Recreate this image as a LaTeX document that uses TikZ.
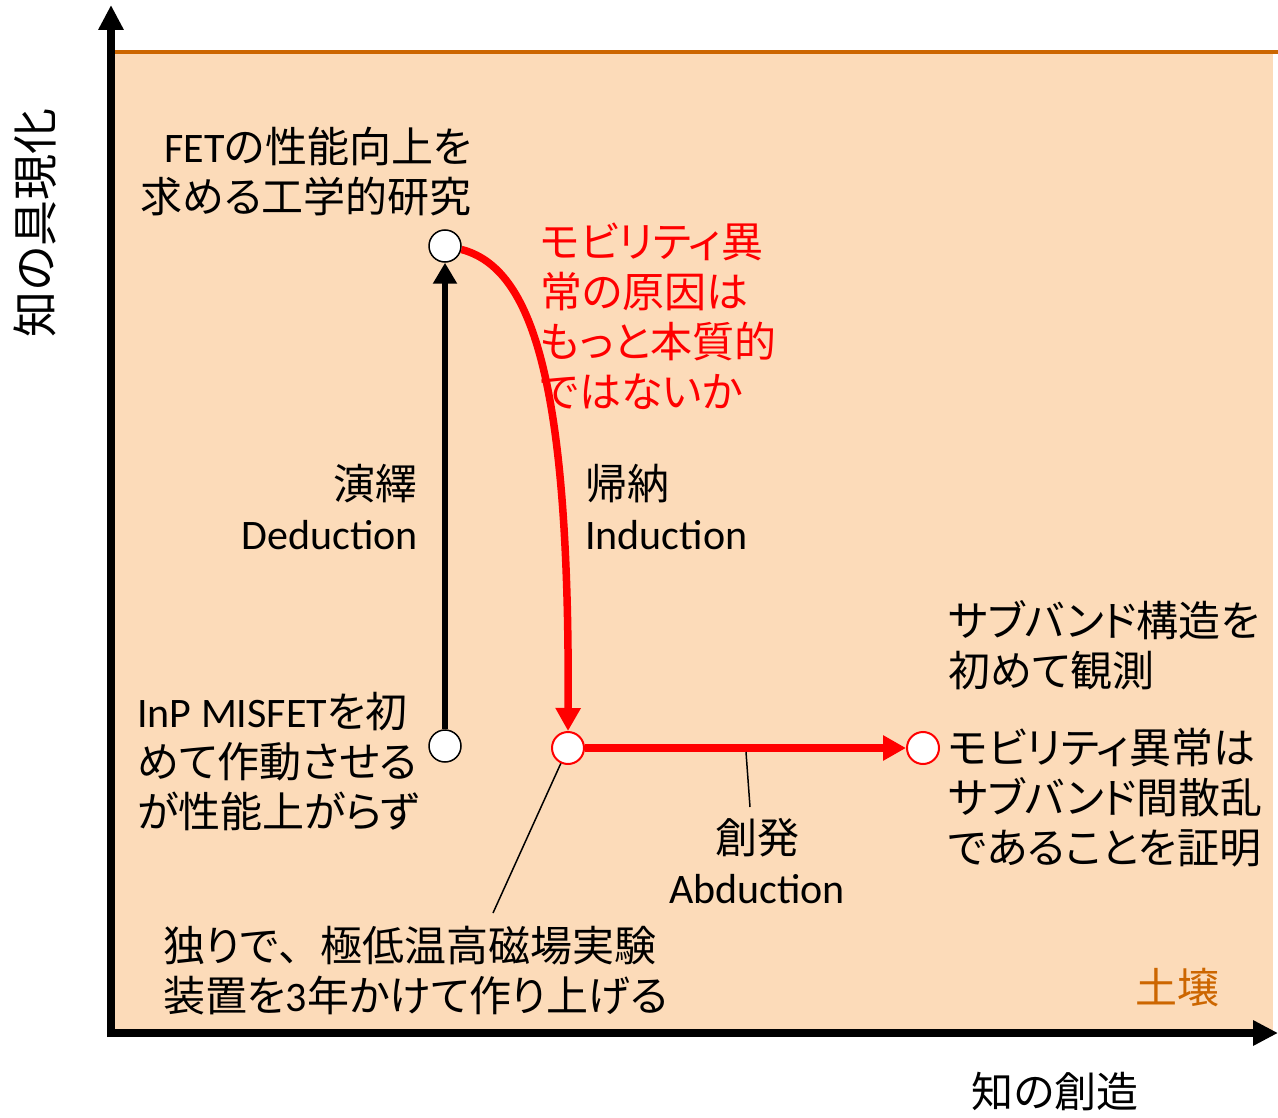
\documentclass[tikz,border=0pt]{standalone}
\usepackage{fontspec}
\setmainfont{Noto Sans CJK JP}[RawFeature={+palt}]
\newfontfamily\jpfull{Noto Sans CJK JP}
\newfontfamily\lat{Carlito}
\usetikzlibrary{arrows.meta}
\definecolor{soil}{RGB}{252,219,185}
\definecolor{soilline}{RGB}{204,102,0}
\begin{document}
\begin{tikzpicture}[x=1pt,y=-1pt,
  txt/.style={inner sep=0pt, font=\fontsize{42}{50}\selectfont},
  dot/.style={circle, draw=black, fill=white, line width=1.5pt, minimum size=32pt, inner sep=0pt},
  rdot/.style={dot, draw=red, line width=2pt},
  axisline/.style={line width=8pt, -{Triangle[length=25pt,width=24pt]}},
  leader/.style={line width=1.5pt},
  redarrow/.style={red, line width=7.5pt, -{Triangle[length=23pt,width=24pt]}}
]
\useasboundingbox (0,0) rectangle (1278,1118);
% soil background
\fill[soil] (115,51) rectangle (1273,1033);
\coordinate (sl) at (115,52);
\coordinate (sr) at (1278,52);
\draw[soilline, line width=4pt] (sl) -- (sr);
% axes
\coordinate (ybot) at (111,1037);
\coordinate (ytop) at (111,5);
\coordinate (xbeg) at (107,1033);
\coordinate (xend) at (1278,1033);
\draw[axisline] (ybot) -- (ytop);
\draw[axisline] (xbeg) -- (xend);
% points
\node[dot] (top) at (445,246) {};
\node[dot] (start) at (445,746) {};
\node[rdot] (mid) at (568,748) {};
\node[rdot] (goal) at (923,748) {};
% arrows
\draw[line width=6pt, -{Triangle[length=21pt,width=23pt]}] (start) -- (top);
\draw[redarrow] (top.-12) .. controls (532,268) and (570,380) .. (mid.north);
\draw[redarrow] (mid) -- (goal);
% labels
\node[txt, anchor=east, align=right] (fet) at (472,172) {{\lat FET}の性能向上を\\求める工学的研究};
\node[txt, anchor=west, align=left, text=red] (q) at (540,316) {モビリティ異\\常の原因は\\もっと本質的\\ではないか};
\node[txt, anchor=east, align=right] (ded) at (418,507) {演繹\\{\lat Deduction}};
\node[txt, anchor=west, align=left] (ind) at (585,507) {帰納\\{\lat Induction}};
\node[txt, anchor=west, align=left] (inp) at (137,762) {{\lat InP MISFET}を初\\めて作動させる\\が性能上がらず};
\node[txt, anchor=west, align=left] (sub) at (948,645) {サブバンド構造を\\初めて観測};
\node[txt, anchor=west, align=left] (proof) at (948,798) {モビリティ異常は\\サブバンド間散乱\\であることを証明};
\node[txt, align=center] (abdl) at (757,861) {創発\\{\lat Abduction}};
\node[txt, anchor=west, align=left] (alone) at (163,971) {独りで{\jpfull 、}極低温高磁場実験\\装置を{\lat 3}年かけて作り上げる};
\node[txt, text=soilline] (soiltxt) at (1177,988) {土壌};
\node[txt] (xlab) at (1055,1092) {知の創造};
\node[txt, rotate=90, font=\fontsize{46}{50}\selectfont] (ylab) at (35,223) {知の具現化};
% leader lines
\coordinate (abd1) at (746,752);
\coordinate (abd2) at (750,807);
\draw[leader] (abd1) -- (abd2);
\coordinate (al2) at (493,913);
\draw[leader] (mid.-115) -- (al2);
\end{tikzpicture}
\end{document}
